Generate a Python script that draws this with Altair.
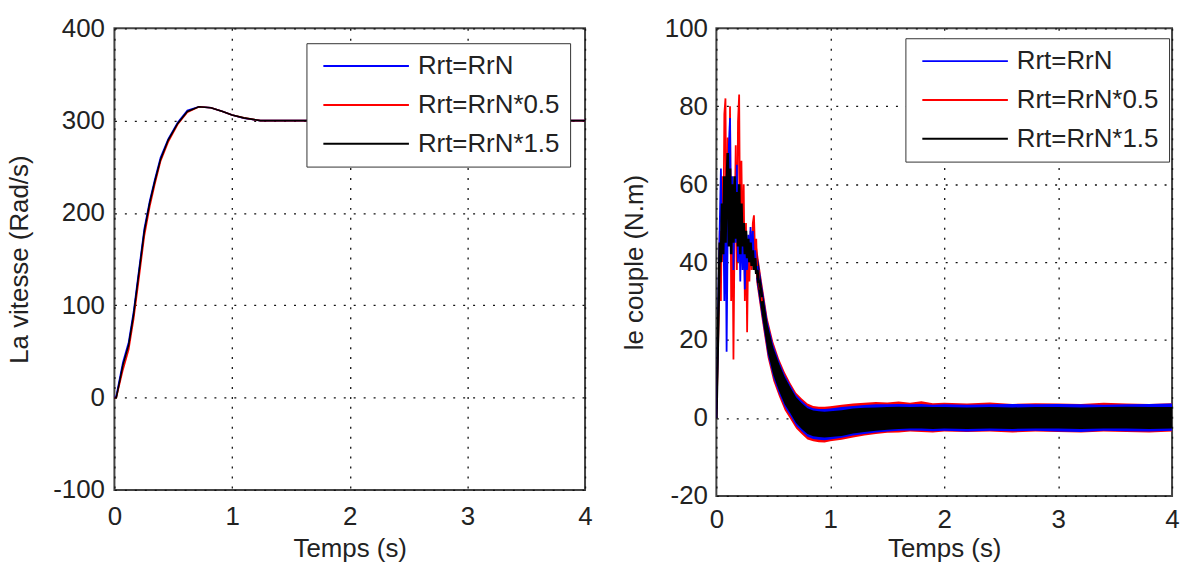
import altair as alt
import pandas as pd

FONT = "Liberation Sans"
TXT = "#222222"
SERIES = ["Rrt=RrN", "Rrt=RrN*0.5", "Rrt=RrN*1.5"]
COLORS = ["#0000ff", "#ff0000", "#000000"]

# ---------------- speed (left panel) ----------------
t_speed = [0, 0.016, 0.072, 0.121, 0.163, 0.202, 0.254, 0.300, 0.343, 0.392, 0.457,
           0.538, 0.620, 0.718, 0.820, 0.920, 1.000, 1.100, 1.240, 1.500, 2.000,
           2.500, 3.000, 3.500, 4.000]
w_blue = [0, 2, 38, 60, 93, 132, 183, 213, 236, 260, 280, 298, 311, 315, 314, 310,
          306, 302.5, 300, 300, 300, 300, 300, 300, 300]
w_red = [0, 0, 30, 52, 85, 123, 175, 207, 231, 256, 277, 296, 309, 315, 314, 310,
         306, 303, 300, 300, 300, 300, 300, 300, 300]
w_black = [0, 0, 35, 57, 90, 129, 180, 211, 234, 258, 279, 297, 310, 315, 314, 310,
           306, 303, 300, 300, 300, 300, 300, 300, 300]

# ---------------- torque (right panel) ----------------
t_tr = [0.00, 0.01, 0.02, 0.03, 0.04, 0.05, 0.06, 0.07, 0.08, 0.09, 0.10, 0.11, 0.12,
        0.13, 0.14, 0.15, 0.16, 0.17, 0.18, 0.19, 0.20, 0.21, 0.22, 0.23, 0.24, 0.25,
        0.26, 0.27, 0.28, 0.29, 0.30, 0.31, 0.32, 0.33, 0.34, 0.35, 0.36, 0.37, 0.38,
        0.39, 0.40]
c_red = [0, 12, 25, 48, 30, 62, 40, 78, 82, 35, 72, 45, 80, 30, 58, 15, 48, 70, 38, 76,
         83, 40, 66, 42, 60, 30, 50, 22, 45, 35, 48, 38, 50, 52, 42, 46, 36, 38, 33, 34, 30]
c_blue = [0, 15, 35, 50, 64, 42, 55, 30, 60, 17, 50, 70, 77, 45, 62, 38, 58, 45, 65, 40,
          55, 35, 52, 38, 48, 33, 45, 38, 47, 40, 49, 41, 48, 40, 43, 38, 39, 36, 35, 33, 31]
c_black = [0, 15, 30, 45, 40, 55, 42, 62, 45, 60, 68, 44, 64, 42, 60, 45, 62, 46, 58, 44,
           60, 42, 55, 44, 50, 42, 48, 41, 46, 40, 45, 39, 43, 38, 41, 37, 38, 35, 35, 33, 31]

t_band = [0.35, 0.40, 0.45, 0.50, 0.55, 0.60, 0.65, 0.70, 0.75, 0.80, 0.85, 0.90, 0.95,
          1.00, 1.10, 1.20, 1.30, 1.40, 1.50, 1.60, 1.70, 1.80, 1.90, 2.00, 2.20, 2.40,
          2.60, 2.80, 3.00, 3.20, 3.40, 3.60, 3.80, 4.00]
black_hi = [43.5, 33.5, 24, 18, 14, 10.5, 7.8, 5.3, 3.8, 2.5, 1.9, 1.7, 1.6, 1.7, 2.0, 2.4,
            2.6, 2.7, 2.8, 2.9, 2.8, 2.9, 2.8, 2.8, 2.7, 2.8, 2.7, 2.8, 2.8, 2.7, 2.8, 2.9, 2.8, 2.8]
black_lo = [36.5, 26.5, 17, 11, 7, 3.5, 1.2, -1.3, -2.8, -4.1, -4.7, -4.9, -5.0, -4.9, -4.6,
            -4.0, -3.6, -3.3, -3.0, -2.8, -2.7, -2.7, -2.8, -2.7, -2.8, -2.7, -2.8, -2.7,
            -2.7, -2.8, -2.7, -2.7, -2.8, -2.7]
red_hi = [45, 35, 25.5, 19.5, 15.2, 11.8, 9, 6.5, 5, 3.7, 3.1, 2.9, 2.9, 3.0, 3.4, 3.7, 3.9,
          4.1, 4.0, 4.2, 3.9, 4.3, 3.8, 3.9, 3.7, 4.0, 3.6, 3.8, 3.7, 3.6, 3.9, 3.7, 3.6, 3.8]
red_lo = [35, 25, 15.5, 9.5, 5.5, 2, -0.3, -2.7, -4.2, -5.5, -6.0, -6.2, -6.3, -6.0, -5.6,
          -5.0, -4.5, -4.1, -3.8, -3.7, -3.5, -3.6, -3.7, -3.5, -3.6, -3.5, -3.7, -3.5,
          -3.6, -3.7, -3.5, -3.6, -3.7, -3.5]
blue_hi = [44, 34.3, 24.8, 18.8, 14.6, 11.1, 8.4, 5.9, 4.4, 3.1, 2.5, 2.3, 2.3, 2.4, 2.8,
           3.1, 3.3, 3.5, 3.5, 3.6, 3.5, 3.6, 3.4, 3.5, 3.4, 3.5, 3.6, 3.5, 3.6, 3.5, 3.4,
           3.5, 3.6, 3.7]
blue_lo = [35.8, 25.8, 16.3, 10.3, 6.3, 2.8, 0.5, -2, -3.5, -4.8, -5.4, -5.6, -5.7, -5.5,
           -5.1, -4.5, -4.1, -3.7, -3.5, -3.3, -3.2, -3.3, -3.4, -3.3, -3.5, -3.3, -3.4,
           -3.3, -3.5, -3.6, -3.3, -3.4, -3.5, -3.3]

color_scale = alt.Scale(domain=SERIES, range=COLORS)


def legend(x, y):
    return alt.Legend(title=None, orient="none", legendX=x, legendY=y,
                      symbolType="stroke", symbolSize=7396, symbolStrokeWidth=2,
                      labelFont=FONT, labelFontSize=26, labelColor=TXT,
                      strokeColor="#333333", fillColor="white", padding=10,
                      symbolOffset=6, labelOffset=8, rowPadding=13, clipHeight=26,
                      labelLimit=400)


def axes(xtitle, ytitle, yvals, ylab_pad, ytitle_pad, xlab_pad, xtitle_pad):
    ax = alt.Axis(values=[0, 1, 2, 3, 4], labelExpr="datum.value + ''", title=xtitle,
                  labelFlush=False, labelPadding=xlab_pad, titlePadding=xtitle_pad)
    ay = alt.Axis(values=yvals, labelExpr="datum.value + ''", title=ytitle,
                  labelFlush=False, labelPadding=ylab_pad, titlePadding=ytitle_pad)
    return ax, ay


def line_layer(t, v, name, xs, ys, ax, ay, leg, width):
    df = pd.DataFrame({"t": t, "v": v, "s": [name] * len(t)})
    return alt.Chart(df).mark_line(strokeWidth=width, clip=True).encode(
        x=alt.X("t:Q", scale=xs, axis=ax),
        y=alt.Y("v:Q", scale=ys, axis=ay),
        color=alt.Color("s:N", scale=color_scale, legend=leg),
    )


# left panel
xs1 = alt.Scale(domain=[0, 4], nice=False, zero=False)
ys1 = alt.Scale(domain=[-100, 400], nice=False, zero=False)
ax1, ay1 = axes("Temps (s)", "La vitesse (Rad/s)", [-100, 0, 100, 200, 300, 400],
                10, 20, 14, 6)
leg1 = legend(193, 15)
left = alt.layer(
    line_layer(t_speed, w_blue, SERIES[0], xs1, ys1, ax1, ay1, leg1, 1.6),
    line_layer(t_speed, w_red, SERIES[1], xs1, ys1, ax1, ay1, leg1, 1.6),
    line_layer(t_speed, w_black, SERIES[2], xs1, ys1, ax1, ay1, leg1, 1.6),
).properties(width=473, height=464)

# right panel
xs2 = alt.Scale(domain=[0, 4], nice=False, zero=False)
ys2 = alt.Scale(domain=[-20, 100], nice=False, zero=False)
ax2, ay2 = axes("Temps (s)", "le couple (N.m)", [-20, 0, 20, 40, 60, 80, 100],
                9, 17, 11, 3)
leg2 = legend(190, 10)


def band(lo, hi, col):
    df = pd.DataFrame({"t": t_band, "lo": lo, "hi": hi})
    return alt.Chart(df).mark_area(color=col, opacity=1, clip=True).encode(
        x=alt.X("t:Q", scale=xs2, axis=ax2),
        y=alt.Y("hi:Q", scale=ys2, axis=ay2),
        y2="lo:Q",
    )


right = alt.layer(
    band(red_lo, red_hi, COLORS[1]),
    band(blue_lo, blue_hi, COLORS[0]),
    band(black_lo, black_hi, COLORS[2]),
    line_layer(t_tr, c_red, SERIES[1], xs2, ys2, ax2, ay2, leg2, 1.8),
    line_layer(t_tr, c_blue, SERIES[0], xs2, ys2, ax2, ay2, leg2, 1.8),
    line_layer(t_tr, c_black, SERIES[2], xs2, ys2, ax2, ay2, leg2, 2.6),
).properties(width=458, height=470)

chart = alt.hconcat(left, right, spacing=132, bounds="flush").resolve_scale(
    color="independent"
).resolve_legend(color="independent").properties(
    padding={"left": 5, "top": 13, "right": 0, "bottom": 0},
    background="white",
).configure_view(
    stroke="#444444", strokeWidth=2
).configure_axis(
    grid=True, gridDash=[2, 8], gridColor="#111111", gridWidth=1.3, gridOpacity=1,
    domain=False, ticks=False, tickSize=0,
    labelFont=FONT, labelFontSize=26, labelColor=TXT,
    titleFont=FONT, titleFontSize=26, titleFontWeight="normal", titleColor=TXT,
)

chart.save("out.html", embed_options={"renderer": "svg", "actions": False})
